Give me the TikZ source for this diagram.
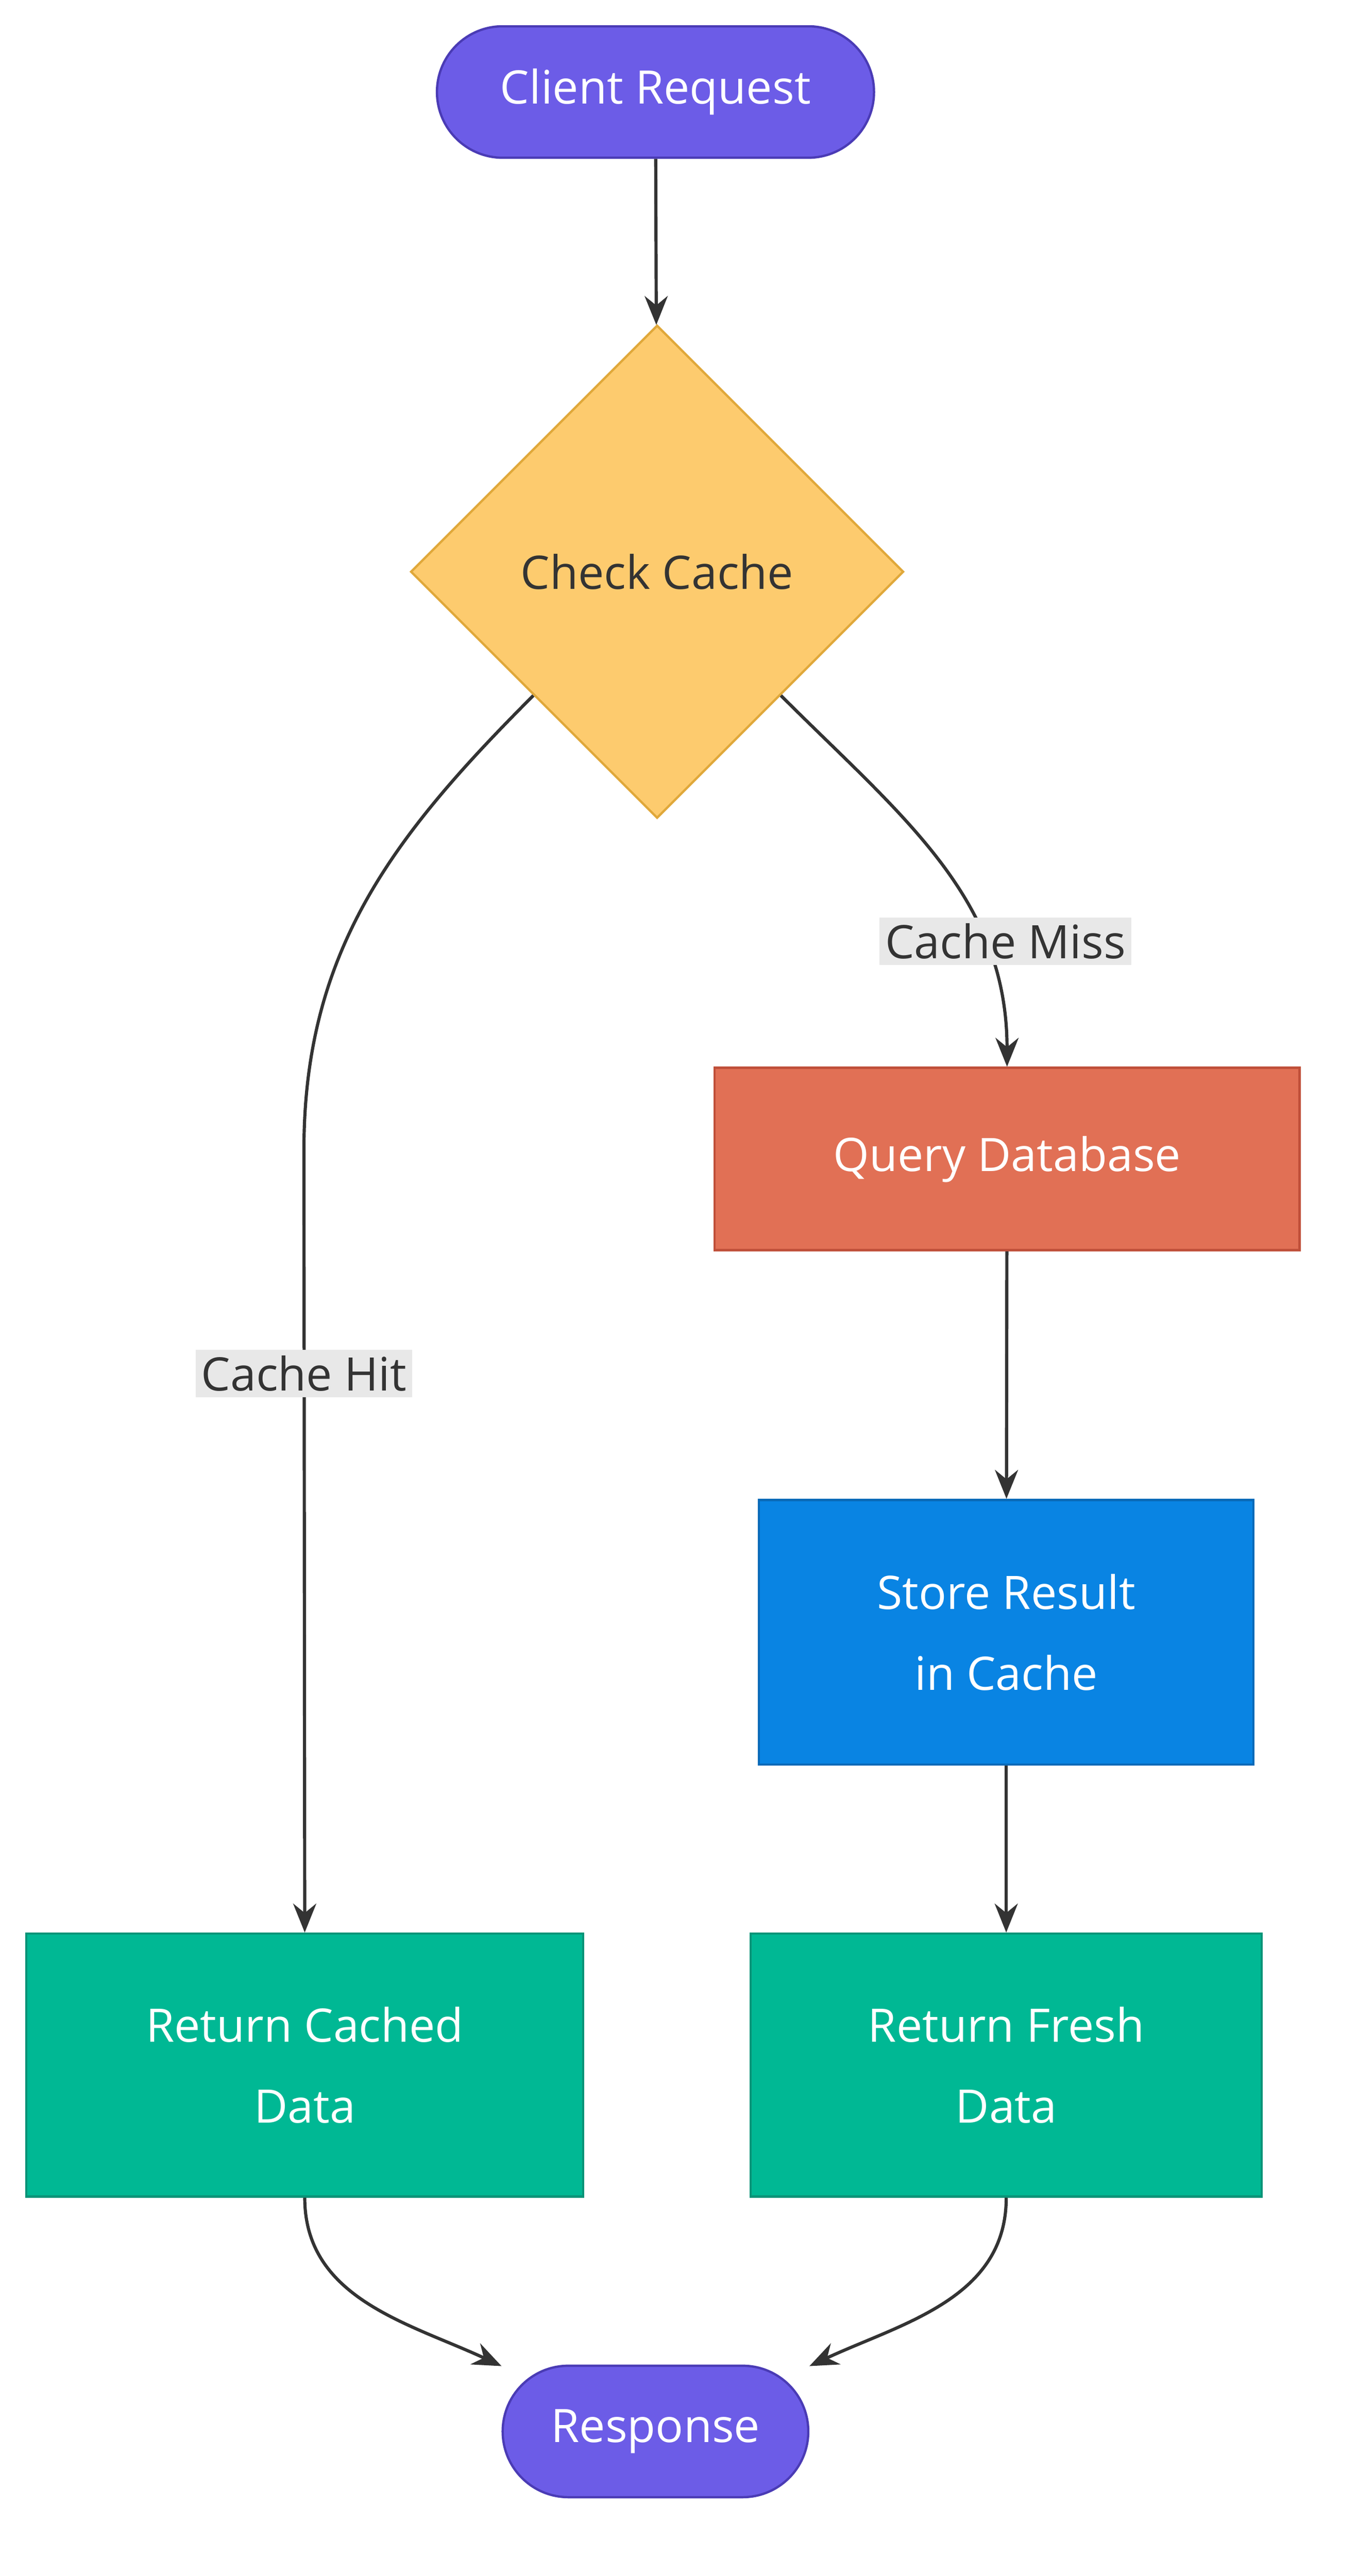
\documentclass[tikz,border=0pt]{standalone}
\usepackage{fontspec}
\setmainfont{Open Sans}
\usetikzlibrary{shapes.geometric,arrows.meta,calc}
\definecolor{purp}{HTML}{6C5CE7}
\definecolor{purpd}{HTML}{4A3BB5}
\definecolor{yel}{HTML}{FDCB6E}
\definecolor{yeld}{HTML}{E0A83A}
\definecolor{org}{HTML}{E17055}
\definecolor{orgd}{HTML}{C0503A}
\definecolor{blu}{HTML}{0984E3}
\definecolor{blud}{HTML}{0A6AB8}
\definecolor{grn}{HTML}{00B894}
\definecolor{grnd}{HTML}{0A9478}
\definecolor{ink}{HTML}{333333}
\tikzset{
  box/.style={draw, line width=1.6pt, align=center, text=white, inner sep=0pt, font=\fontsize{32}{56}\selectfont},
  term/.style={box, fill=purp, draw=purpd, rounded corners=1.6cm, minimum height=3.2cm},
  flow/.style={draw=ink, line width=2.2pt, -{Stealth[length=20pt,width=16pt]}},
  lbl/.style={fill=black!9, text=ink, inner sep=4pt, font=\fontsize{32}{38}\selectfont}
}
\begin{document}
\begin{tikzpicture}[x=0.04cm,y=-0.04cm]
    \useasboundingbox (0,0) rectangle (826,1568);
    % nodes
    \node[term, minimum width=10.64cm] (req) at (399,56) {Client Request};
    \node[box, diamond, aspect=1, fill=yel, draw=yeld, text=ink, minimum width=12cm, minimum height=12cm] (chk) at (400,348) {Check Cache};
    \node[box, fill=org, draw=orgd, minimum width=14.24cm, minimum height=4.44cm] (qdb) at (613,705.5) {Query Database};
    \node[box, fill=blu, draw=blud, minimum width=12.04cm, minimum height=6.44cm] (str) at (612.5,993.5) {Store Result\\in Cache};
    \node[box, fill=grn, draw=grnd, minimum width=13.56cm, minimum height=6.4cm] (rcd) at (185.5,1257) {Return Cached\\Data};
    \node[box, fill=grn, draw=grnd, minimum width=12.44cm, minimum height=6.4cm] (rfd) at (612.5,1257) {Return Fresh\\Data};
    \node[term, minimum width=7.44cm] (rsp) at (399,1480) {Response};
    % connectors
    \coordinate (miss) at ($(chk.east)!0.5!(chk.south)$);
    \coordinate (hit) at ($(chk.west)!0.5!(chk.south)$);
    \coordinate (hbend) at (185,700);
    \draw[flow] (req) -- (chk);
    \draw[flow] (miss) to[out=-45,in=90] (qdb.north);
    \draw[flow, -] (hit) to[out=-135,in=90] (hbend);
    \draw[flow] (hbend) -- (rcd.north);
    \draw[flow] (qdb) -- (str);
    \draw[flow] (str) -- (rfd);
    \draw[flow] (rcd.south) to[out=-90,in=155] (rsp.157);
    \draw[flow] (rfd.south) to[out=-90,in=25] (rsp.23);
    % labels
    \node[lbl] (lmiss) at (612,573) {Cache Miss};
    \node[lbl] (lhit) at (185,836) {Cache Hit};
\end{tikzpicture}
\end{document}
